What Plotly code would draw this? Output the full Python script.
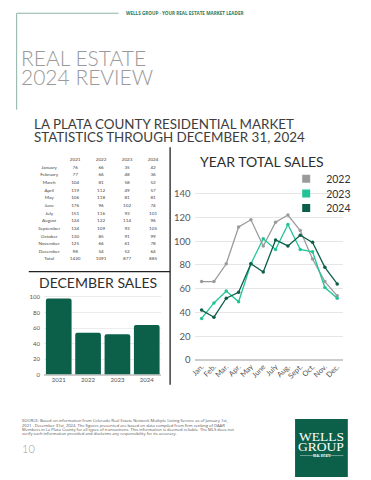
import plotly.graph_objects as go

# ---------------- data ----------------
MONTH_NAMES = ["January", "February", "March", "April", "May", "June", "July",
               "August", "September", "October", "November", "December"]
MONTH_ABBR = ["Jan.", "Feb.", "Mar.", "Apr.", "May", "June", "July",
              "Aug.", "Sept.", "Oct.", "Nov.", "Dec."]
YEARS = ["2021", "2022", "2023", "2024"]
SALES_2021 = [76, 77, 104, 119, 106, 176, 151, 124, 134, 130, 125, 98]
SALES_2022 = [66, 66, 81, 112, 118, 96, 116, 122, 109, 85, 66, 54]
SALES_2023 = [35, 48, 58, 49, 81, 102, 93, 114, 93, 91, 61, 52]
SALES_2024 = [42, 36, 52, 57, 81, 74, 101, 96, 105, 99, 78, 64]
LINE_YEARS = ["2022", "2023", "2024"]
Y_TICKS_LINE = [0, 20, 40, 60, 80, 100, 120, 140]
Y_TICKS_BAR = [0, 20, 40, 60, 80, 100]

SALES = {"2021": SALES_2021, "2022": SALES_2022, "2023": SALES_2023, "2024": SALES_2024}
TOTALS = {y: sum(v) for y, v in SALES.items()}
DECEMBER = [SALES[y][-1] for y in YEARS]

# ---------------- style ----------------
# the page body has an 8px default margin; the figure is sized to fit the window
PAGE_W, PAGE_H, OFF = 371, 480, 8
W, H = PAGE_W - OFF, PAGE_H - OFF
def px(x):
    return (x - OFF) / W
def py(y):
    return 1 - (y - OFF) / H

DARK_GREEN = "#0c5f49"
COLORS = {"2022": "#9b9b9b", "2023": "#22c497", "2024": DARK_GREEN}
FONT = "Lato"

fig = go.Figure()

# ---------- line chart: year total sales ----------
for yr in LINE_YEARS:
    fig.add_trace(go.Scatter(
        x=MONTH_ABBR, y=SALES[yr], mode="lines+markers", name=yr,
        line=dict(color=COLORS[yr], width=1.3),
        marker=dict(size=3.5, color=COLORS[yr]),
        showlegend=False, xaxis="x", yaxis="y",
        hovertemplate="%{x} " + yr + ": %{y}<extra></extra>"))

legend_ids = ["legend", "legend2", "legend3"]
for yr, lid in zip(LINE_YEARS, legend_ids):
    fig.add_trace(go.Scatter(
        x=[None], y=[None], mode="markers", name=yr,
        marker=dict(symbol="square", size=8, color=COLORS[yr]),
        showlegend=True, legend=lid, xaxis="x", yaxis="y"))

# ---------- bar chart: december sales ----------
fig.add_trace(go.Bar(
    x=YEARS, y=DECEMBER, marker=dict(color=DARK_GREEN, line=dict(width=0)),
    showlegend=False, xaxis="x2", yaxis="y2",
    hovertemplate="%{x}: %{y}<extra></extra>"))

# ---------- table ----------
ROWS = [" "] + MONTH_NAMES + ["Total"]
fig.add_trace(go.Scatter(
    x=["label"] * len(ROWS), y=ROWS, mode="text",
    text=[""] + MONTH_NAMES + ["Total"],
    textfont=dict(size=4.6, color="#444", family=FONT),
    showlegend=False, xaxis="x3", yaxis="y3", hoverinfo="skip"))
for yr in YEARS:
    fig.add_trace(go.Scatter(
        x=[yr] * len(ROWS), y=ROWS, mode="text",
        text=[yr] + [str(v) for v in SALES[yr]] + [str(TOTALS[yr])],
        textfont=dict(size=4.6, color="#444", family=FONT),
        showlegend=False, xaxis="x3", yaxis="y3", hoverinfo="skip"))

# ---------------- layout ----------------
legend_rows = [180, 194.8, 209.6]
legends = {}
for lid, yy in zip(legend_ids, legend_rows):
    legends[lid] = dict(x=px(285), y=py(yy), xanchor="left", yanchor="middle",
                        bgcolor="rgba(0,0,0,0)", borderwidth=0,
                        font=dict(size=10.5, color="#333", family=FONT),
                        itemwidth=30)

ann = []
def text(x, y, s, size, color="#444", family=FONT, xanchor="left", weight=None):
    f = dict(size=size, color=color, family=family)
    if weight is not None:
        f["weight"] = weight
    ann.append(dict(x=px(x), y=py(y), xref="paper", yref="paper", text=s,
                    showarrow=False, xanchor=xanchor, yanchor="middle", font=f))

text(121, 12.3, "WELLS GROUP · YOUR REAL ESTATE MARKET LEADER", 4.6,
     color="#2c7a5e", family="Open Sans", weight="bold")
text(14.5, 57.5, "REAL ESTATE", 21, color="#9a9a9a", weight=300)
text(14.5, 76.5, "2024 REVIEW", 21, color="#9a9a9a", weight=300)
text(27, 124.5, "LA PLATA COUNTY RESIDENTIAL MARKET", 13.4, color="#3d3d3d")
text(27, 137.5, "STATISTICS THROUGH DECEMBER 31, 2024", 13.4, color="#3d3d3d")
text(196, 162.5, "YEAR TOTAL SALES", 14, color="#2e2e2e")
text(32, 285.5, "DECEMBER SALES", 14, color="#2e2e2e")

FOOTER = [
    "SOURCE: Based on information from Colorado Real Estate Network Multiple Listing Service as of January 1st,",
    "2021 - December 31st, 2024. The figures presented are based on data compiled from firm ranking of DAAR",
    "Members in La Plata County for all types of transactions. This information is deemed reliable. The MLS does not",
    "verify such information provided and disclaims any responsibility for its accuracy.",
]
for i, line in enumerate(FOOTER):
    text(15.5, 425.3 + 4.1 * i, line, 4.1, color="#555", family="Open Sans")
text(15.5, 453.5, "10", 11, color="#a0a0a0", weight=300)

# logo text
text(320.5, 440.5, "WELLS", 13.5, color="white", family="Liberation Serif", xanchor="center")
text(320.5, 451.5, "GROUP", 13.5, color="white", family="Liberation Serif", xanchor="center")
text(321, 460.3, "REAL ESTATE", 2.8, color="white", family="Open Sans", xanchor="center", weight="bold")

shapes = []
def line(x0, y0, x1, y1, color, width):
    shapes.append(dict(type="line", xref="paper", yref="paper",
                       x0=px(x0), y0=py(y0), x1=px(x1), y1=py(y1),
                       line=dict(color=color, width=width)))

line(11.7, 12.3, 115, 12.3, "#8db3a6", 1)
line(11.7, 12.3, 11.7, 110, "#8db3a6", 1)
line(167.3, 148, 167.3, 388.5, "#222", 1.3)
line(24, 274, 167.3, 274, "#222", 1.3)
shapes.append(dict(type="rect", xref="paper", yref="paper",
                   x0=px(294), y0=py(482), x1=px(347.5), y1=py(423.3),
                   fillcolor=DARK_GREEN, line=dict(width=0), layer="below"))
line(299, 460.3, 312, 460.3, "rgba(255,255,255,0.8)", 0.5)
line(330, 460.3, 343, 460.3, "rgba(255,255,255,0.8)", 0.5)

fig.update_layout(
    width=W, height=H, margin=dict(l=0, r=0, t=0, b=0),
    paper_bgcolor="white", plot_bgcolor="white",
    font=dict(family=FONT, color="#444"),
    barcornerradius=2, bargap=0.125,
    annotations=ann, shapes=shapes,
    xaxis=dict(domain=[px(193), px(343)], type="category",
               categoryorder="array", categoryarray=MONTH_ABBR,
               range=[-0.5, 11.5], tickangle=-45, showgrid=False,
               showline=False, zeroline=False, ticks="",
               tickfont=dict(size=7.5, color="#555", family=FONT), fixedrange=True),
    yaxis=dict(domain=[py(363.5), py(183)], range=[0, 150], tickvals=Y_TICKS_LINE,
               showgrid=True, gridcolor="#e6e6e6", gridwidth=1,
               zeroline=True, zerolinecolor="#cccccc", zerolinewidth=2,
               showline=False, ticks="", ticklabelstandoff=4,
               tickfont=dict(size=9.5, color="#555", family=FONT), fixedrange=True),
    xaxis2=dict(domain=[px(39.5), px(158.5)], type="category", anchor="y2",
                showgrid=False, showline=False, zeroline=False, ticks="",
                tickfont=dict(size=6, color="#555", family=FONT), fixedrange=True),
    yaxis2=dict(domain=[py(378.3), py(296.5)], anchor="x2", range=[0, 104],
                tickvals=Y_TICKS_BAR, showgrid=True, gridcolor="#ececec",
                zeroline=True, zerolinecolor="#cccccc", zerolinewidth=1.5,
                showline=False, ticks="", ticklabelstandoff=3,
                tickfont=dict(size=6, color="#555", family=FONT), fixedrange=True),
    xaxis3=dict(domain=[px(31.5), px(163.2)], anchor="y3", type="category",
                categoryorder="array", categoryarray=["label"] + YEARS,
                range=[-0.5, 4.5], visible=False, fixedrange=True),
    yaxis3=dict(domain=[py(265.4), py(157.1)], anchor="x3", type="category",
                categoryorder="array", categoryarray=ROWS,
                range=[len(ROWS) - 0.5, -0.5], visible=False, fixedrange=True),
    **legends,
)

fig.write_html("out.html")
